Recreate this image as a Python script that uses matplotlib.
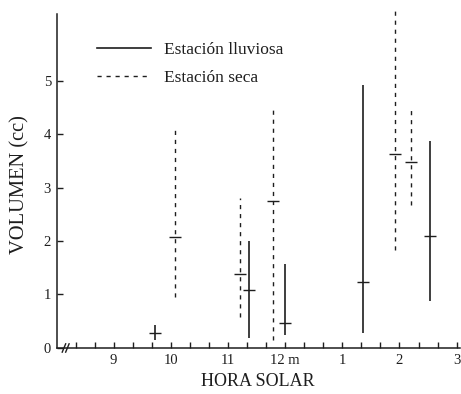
import matplotlib
matplotlib.use("Agg")
import matplotlib.pyplot as plt
import numpy as np

plt.rcParams['font.family'] = ['Liberation Serif', 'DejaVu Serif']

# Hours expressed on a 24h scale (8 = 8 a.m., 13 = 1 p.m.)
# Estación lluviosa (solid)
rain_x = [9.72, 11.37, 12.00, 13.36, 14.53]
rain_mid = [0.28, 1.08, 0.47, 1.23, 2.10]
rain_lo = [0.15, 0.19, 0.24, 0.28, 0.87]
rain_hi = [0.43, 2.00, 1.57, 4.92, 3.87]

# Estación seca (dashed)
dry_x = [10.08, 11.21, 11.78, 13.92, 14.20]
dry_mid = [2.07, 1.38, 2.75, 3.62, 3.47]
dry_lo = [0.96, 0.58, 0.15, 1.83, 2.67]
dry_hi = [4.09, 2.80, 4.50, 6.38, 4.49]

xtick_pos = [9, 10, 11, 12, 13, 14, 15]
xtick_labels = ['9', '10', '11', '12 m', '1', '2', '3']
ytick_pos = [0, 1, 2, 3, 4, 5]

ink = '#1e1e1e'
dash = (0, (3, 3.5))

fig = plt.figure(figsize=(4.61, 3.94), dpi=100)
ax = fig.add_axes([0.1226, 0.1168, 0.8754, 0.8756])

ax.vlines(rain_x, rain_lo, rain_hi, colors=ink, linewidth=1.2, linestyles='solid')
ax.plot(rain_x, rain_mid, linestyle='none', marker='_', markersize=8,
        markeredgewidth=1.0, color=ink)

ax.vlines(dry_x, dry_lo, dry_hi, colors=ink, linewidth=1.0, linestyles=dash)
ax.plot(dry_x, dry_mid, linestyle='none', marker='_', markersize=8,
        markeredgewidth=1.0, color=ink)

ax.set_xlim(8.0, 15.06)
ax.set_ylim(0, 6.45)

for s in ['top', 'right']:
    ax.spines[s].set_visible(False)
ax.spines['left'].set_bounds(0, 6.24)
for s in ['left', 'bottom']:
    ax.spines[s].set_linewidth(1.1)
    ax.spines[s].set_color(ink)

ax.set_xticks(xtick_pos)
ax.set_xticklabels(xtick_labels, fontsize=10.5, color=ink)
ax.set_xticks(np.arange(8 + 1/3, 15.01, 1/3), minor=True)
ax.set_yticks(ytick_pos)
ax.set_yticklabels([str(v) for v in ytick_pos], fontsize=10.5, color=ink)
ax.tick_params(axis='both', which='both', direction='in', length=4, width=1.0,
               color=ink, pad=4)

ax.set_xlabel('HORA SOLAR', fontsize=13, color=ink, labelpad=5)
ax.set_ylabel('VOLUMEN (cc)', fontsize=14.8, color=ink)
ax.yaxis.set_label_coords(-0.068, 0.475)

# axis break marks
trans = ax.get_xaxis_transform()
for dx in (0.13, 0.19):
    ax.plot([8 + dx - 0.03, 8 + dx + 0.03], [-0.012, 0.012], transform=trans,
            color=ink, linewidth=1.0, clip_on=False)

ax.legend(
    handles=[
        plt.Line2D([], [], color=ink, linewidth=1.2, linestyle='solid'),
        plt.Line2D([], [], color=ink, linewidth=1.0, linestyle=dash),
    ],
    labels=['Estación lluviosa', 'Estación seca'],
    loc='upper left', bbox_to_anchor=(0.062, 0.932), frameon=False,
    fontsize=12.5, handlelength=3.1, handletextpad=0.75, labelspacing=0.68,
    labelcolor=ink,
)

fig.savefig('out.png', dpi=100)
